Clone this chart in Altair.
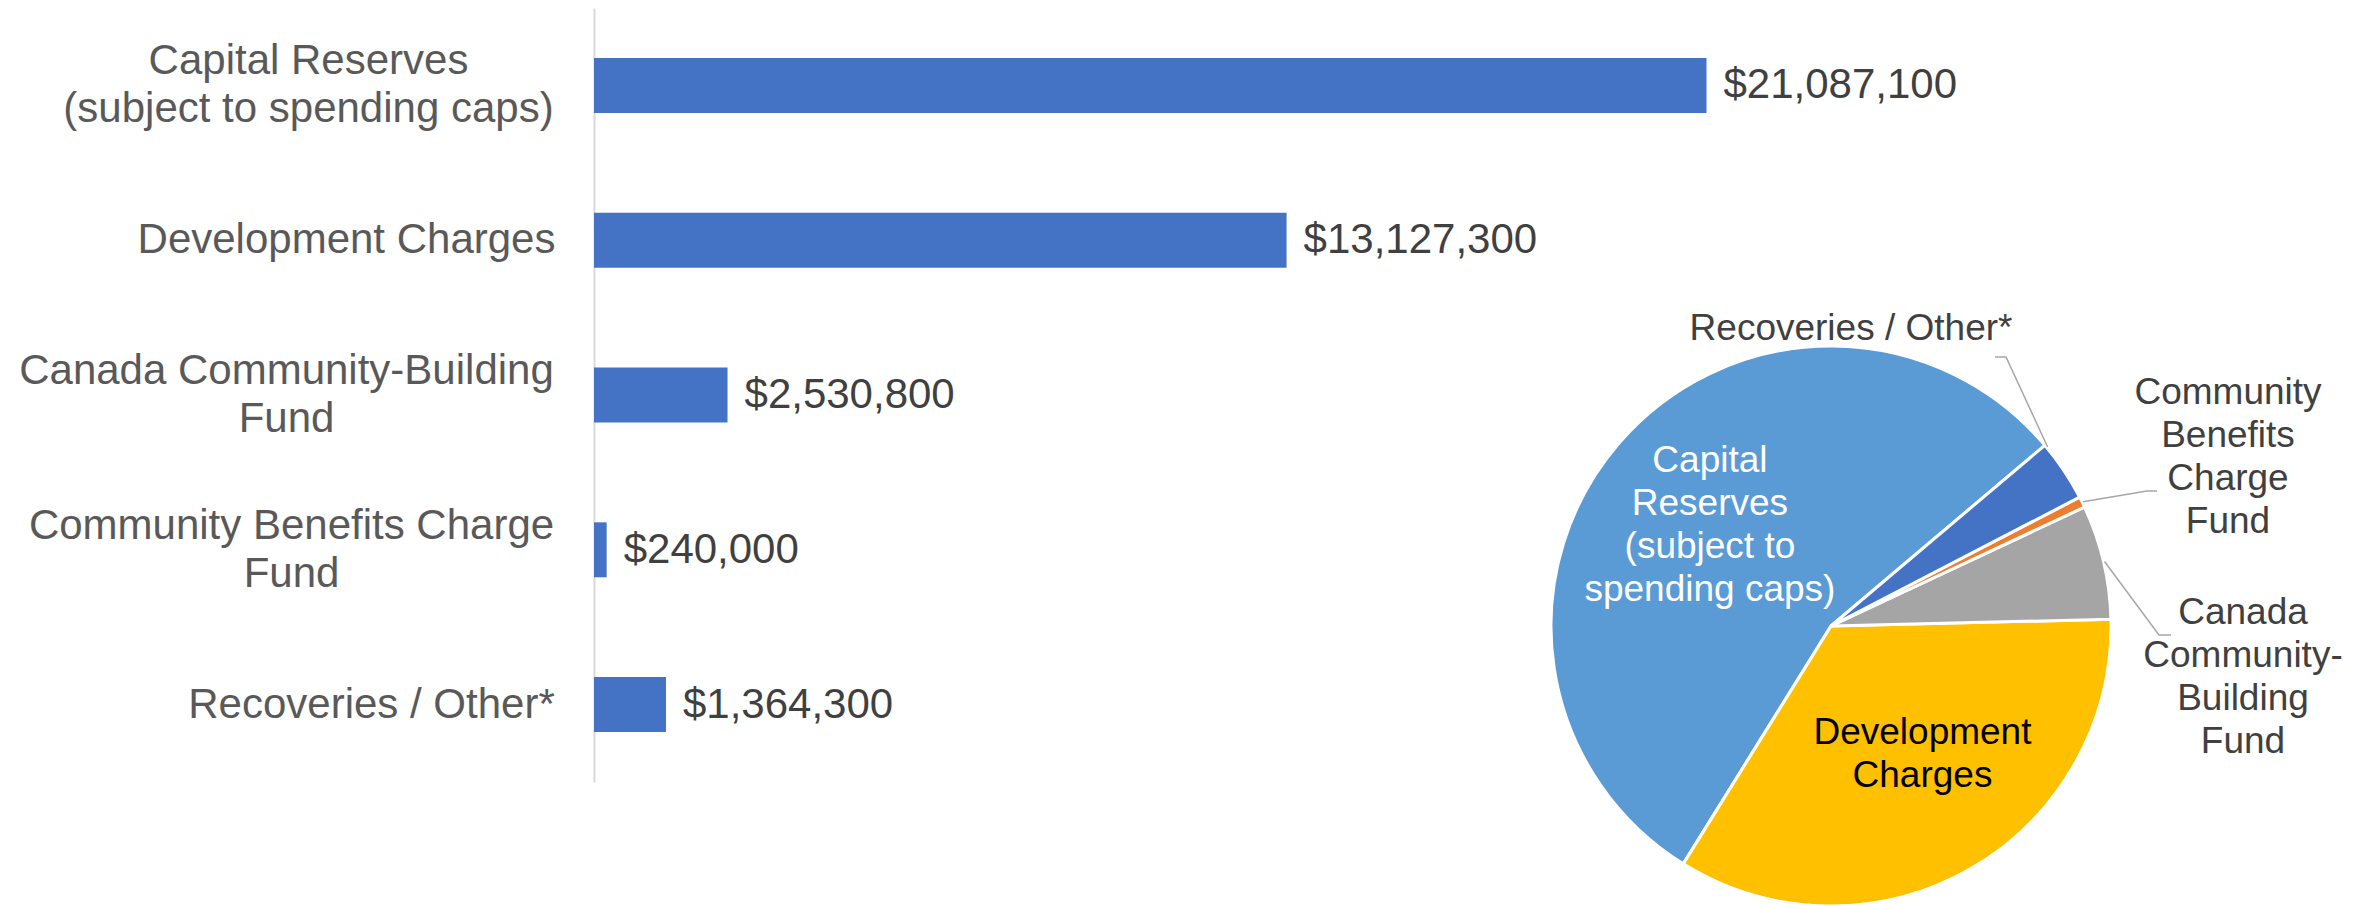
import math
import altair as alt
import pandas as pd

# ---------------- data ----------------
categories = [
    "Capital Reserves (subject to spending caps)",
    "Development Charges",
    "Canada Community-Building Fund",
    "Community Benefits Charge Fund",
    "Recoveries / Other*",
]
amounts = [21087100, 13127300, 2530800, 240000, 1364300]
bar_labels = [
    "Capital Reserves|(subject to spending caps)",
    "Development Charges",
    "Canada Community-Building|Fund",
    "Community Benefits Charge|Fund",
    "Recoveries / Other*",
]
pie_labels = [
    "Capital|Reserves|(subject to|spending caps)",
    "Development|Charges",
    "Canada|Community-|Building|Fund",
    "Community|Benefits|Charge|Fund",
    "Recoveries / Other*",
]
pie_position = [4, 3, 2, 1, 0]  # clockwise order in the pie
pie_colors = ["#5B9BD5", "#FFC000", "#A5A5A5", "#ED7D31", "#4472C4"]

# ---------------- style / layout ----------------
FONT = "Liberation Sans"
BAR_COLOR = "#4472C4"
W, H = 1741, 774
XMAX = 33000000
PIE_CX, PIE_CY, PIE_R = 1237, 618, 280
START = math.radians(49.8)
AXIS_LH = 48
PIE_LH = 43
LABEL_GAP = 38
label_half = {
    "Capital Reserves|(subject to spending caps)": 248,
    "Development Charges": 210,
    "Canada Community-Building|Fund": 270,
    "Community Benefits Charge|Fund": 265,
    "Recoveries / Other*": 185,
}
outside = {
    "Recoveries / Other*": dict(dx=20, dy=-297, elbow=(155, 28), end=(144, 28), frac=0.05),
    "Community Benefits Charge Fund": dict(dx=397, dy=-169, elbow=(-81, 34), end=(-71, 34), frac=0.5),
    "Canada Community-Building Fund": dict(dx=412, dy=51, elbow=(-84, -42), end=(-72, -42), frac=0.5),
}

df = pd.DataFrame({
    "cat": categories,
    "amount": amounts,
    "bar_label": bar_labels,
    "pie_label": pie_labels,
    "pos": pie_position,
})

# ---------------- bar chart ----------------
pad_conds = [
    {"test": f"datum.value == '{k}'", "value": LABEL_GAP + v}
    for k, v in label_half.items()
]
off_conds = [
    {"test": f"datum.value == '{k}'", "value": -(k.count("|")) * AXIS_LH / 2}
    for k in bar_labels if "|" in k
]
y_enc = alt.Y(
    "bar_label:N",
    sort=bar_labels,
    title=None,
    scale=alt.Scale(paddingInner=0.645, paddingOuter=0.3225),
    axis=alt.Axis(
        ticks=False,
        grid=False,
        domainColor="#D9D9D9",
        domainWidth=2,
        labelFont=FONT,
        labelFontSize=42,
        labelColor="#595959",
        labelAlign="center",
        labelBaseline="middle",
        labelLineHeight=AXIS_LH,
        labelLimit=2000,
        labelExpr="split(datum.label, '|')",
        labelPadding={"condition": pad_conds, "value": LABEL_GAP + 200},
        labelOffset={"condition": off_conds, "value": 0},
    ),
)
x_enc = alt.X("amount:Q", axis=None, scale=alt.Scale(domain=[0, XMAX]))

bars = alt.Chart(df).mark_bar(color=BAR_COLOR).encode(x=x_enc, y=y_enc)
values = alt.Chart(df).mark_text(
    align="left", baseline="middle", dx=17, font=FONT, fontSize=42, color="#404040"
).encode(x=x_enc, y=y_enc, text=alt.Text("amount:Q", format="$,.0f"))
bar_layer = alt.layer(bars, values)

# ---------------- pie ----------------
theta = alt.Theta(
    "amount:Q", stack=True, scale=alt.Scale(range=[START, START + 2 * math.pi])
)
order = alt.Order("pos:Q", sort="ascending")

arcs = alt.Chart(df).mark_arc(
    outerRadius=PIE_R, stroke="white", strokeWidth=3
).encode(
    x=alt.value(PIE_CX),
    y=alt.value(PIE_CY),
    theta=theta,
    order=order,
    color=alt.Color(
        "cat:N", legend=None,
        scale=alt.Scale(domain=categories, range=pie_colors),
    ),
)

inside_cr = alt.Chart(df).mark_text(
    radius=160, dy=-60, font=FONT, fontSize=37, lineBreak="|", lineHeight=PIE_LH,
    align="center", baseline="middle", color="white",
).encode(
    x=alt.value(PIE_CX), y=alt.value(PIE_CY), theta=theta, order=order,
    text=alt.condition(alt.datum.cat == categories[0], "pie_label:N", alt.value("")),
)
inside_dc = alt.Chart(df).mark_text(
    radius=152, dx=16, dy=-25, font=FONT, fontSize=37, lineBreak="|", lineHeight=PIE_LH,
    align="center", baseline="middle", color="black",
).encode(
    x=alt.value(PIE_CX), y=alt.value(PIE_CY), theta=theta, order=order,
    text=alt.condition(alt.datum.cat == categories[1], "pie_label:N", alt.value("")),
)

total = float(sum(amounts))
ordered = sorted(zip(pie_position, categories, amounts, pie_labels))
cum = 0.0
lab_rows, line_rows = [], []
for _, cat, amt, lab in ordered:
    frac = amt / total
    if cat in outside:
        o = outside[cat]
        ang = START + 2 * math.pi * (cum + frac * o["frac"])
        sx = PIE_CX + (PIE_R + 1) * math.sin(ang)
        sy = PIE_CY - (PIE_R + 1) * math.cos(ang)
        lx, ly = PIE_CX + o["dx"], PIE_CY + o["dy"]
        first_line_y = ly - lab.count("|") * PIE_LH / 2
        lab_rows.append({"cat": cat, "label": lab, "px": lx, "py": first_line_y})
        pts = [(sx, sy), (lx + o["elbow"][0], ly + o["elbow"][1]), (lx + o["end"][0], ly + o["end"][1])]
        for i, (px, py) in enumerate(pts):
            line_rows.append({"cat": cat, "step": i, "px": px, "py": py})
    cum += frac

lab_df = pd.DataFrame(lab_rows)
line_df = pd.DataFrame(line_rows)

leaders = alt.Chart(line_df).mark_line(color="#A6A6A6", strokeWidth=1.5).encode(
    x=alt.X("px:Q", scale=None, axis=None),
    y=alt.Y("py:Q", scale=None, axis=None),
    detail="cat:N",
    order="step:Q",
)
out_labels = alt.Chart(lab_df).mark_text(
    font=FONT, fontSize=37, lineBreak="|", lineHeight=PIE_LH,
    align="center", baseline="middle", color="#404040",
).encode(
    x=alt.X("px:Q", scale=None, axis=None),
    y=alt.Y("py:Q", scale=None, axis=None),
    text="label:N",
)

chart = (
    alt.layer(bar_layer, arcs, inside_cr, inside_dc, leaders, out_labels)
    .resolve_scale(x="independent", y="independent")
    .properties(width=W, height=H, padding={"left": 10, "top": 0, "right": 5, "bottom": 0})
    .configure_view(strokeWidth=0)
)

chart.save("out.html", embed_options={"renderer": "svg", "actions": False})
